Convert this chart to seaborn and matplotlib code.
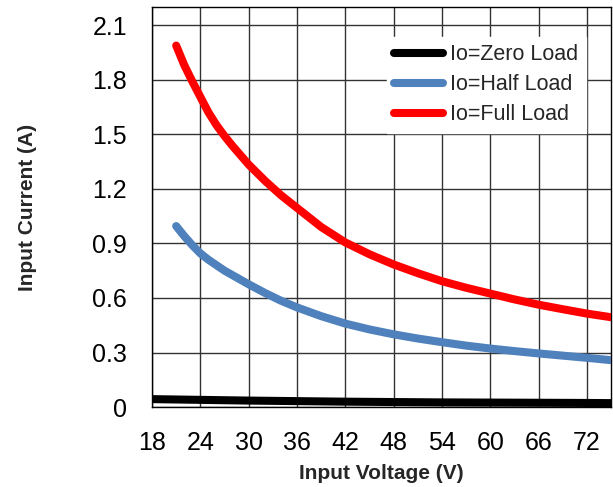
import matplotlib
matplotlib.use("Agg")
from matplotlib import pyplot as plt
import seaborn as sns
import pandas as pd

# input voltage (V) and input current (A)
v_zero = [18, 24, 30, 36, 42, 48, 54, 60, 66, 72, 75]
i_zero = [0.044, 0.040, 0.036, 0.033, 0.030, 0.028, 0.026, 0.025, 0.024, 0.023, 0.022]

v_load = [21, 22, 23, 24, 25, 26, 27, 28, 30, 32, 34, 36, 39, 42, 45, 48, 51, 54, 57, 60, 63, 66, 69, 72, 75]
i_half = [0.995, 0.94, 0.89, 0.845, 0.81, 0.78, 0.75, 0.725, 0.675, 0.628, 0.585, 0.548, 0.500, 0.459, 0.427,
          0.40, 0.377, 0.357, 0.338, 0.322, 0.308, 0.295, 0.283, 0.271, 0.258]
i_full = [1.987, 1.88, 1.79, 1.705, 1.62, 1.55, 1.49, 1.435, 1.333, 1.245, 1.165, 1.095, 0.99, 0.905, 0.84,
          0.784, 0.736, 0.692, 0.656, 0.624, 0.592, 0.563, 0.538, 0.514, 0.494]

labels = ["Io=Zero Load", "Io=Half Load", "Io=Full Load"]
colors = ["#000000", "#4f81bd", "#ff0000"]

df = pd.concat([
    pd.DataFrame({"v": v_zero, "i": i_zero, "load": labels[0]}),
    pd.DataFrame({"v": v_load, "i": i_half, "load": labels[1]}),
    pd.DataFrame({"v": v_load, "i": i_full, "load": labels[2]}),
])

sns.set_style("white")
plt.rcParams['font.family'] = ['Liberation Sans', 'DejaVu Sans']

fig = plt.figure(figsize=(6.13, 4.87), dpi=100)
ax = fig.add_axes([0.248, 0.164, 0.749, 0.822])

sns.lineplot(data=df, x="v", y="i", hue="load", palette=colors, linewidth=5.8,
             solid_capstyle="round", solid_joinstyle="round", ax=ax, zorder=3)

ax.set_xlim(18, 75)
ax.set_ylim(0, 2.2)
ax.set_xticks(range(18, 75, 6))
ax.set_yticks([0, 0.3, 0.6, 0.9, 1.2, 1.5, 1.8, 2.1])
ax.set_yticklabels(["0", "0.3", "0.6", "0.9", "1.2", "1.5", "1.8", "2.1"])
ax.tick_params(axis="y", labelsize=18, length=0, pad=18, colors="black")
ax.tick_params(axis="x", labelsize=18, length=0, pad=17, colors="black")
ax.grid(True, color="#333333", linewidth=1)
for s in ax.spines.values():
    s.set_color("black")
    s.set_linewidth(1)

ax.set_xlabel("Input Voltage (V)", fontsize=15, fontweight="bold", labelpad=7)
ax.set_ylabel("Input Current (A)", fontsize=15, fontweight="bold", labelpad=40)

leg = ax.legend(loc="upper left", bbox_to_anchor=(0.511, 0.925), borderaxespad=0,
                fontsize=15.5, frameon=True, handlelength=2.28, handletextpad=0.33,
                labelspacing=0.42, borderpad=0.35)
leg.get_frame().set_facecolor("white")
leg.get_frame().set_edgecolor("white")
leg.get_frame().set_alpha(1)
leg.get_frame().set_boxstyle("square", pad=0)
leg.set_zorder(5)

fig.savefig("out.png", dpi=100)
